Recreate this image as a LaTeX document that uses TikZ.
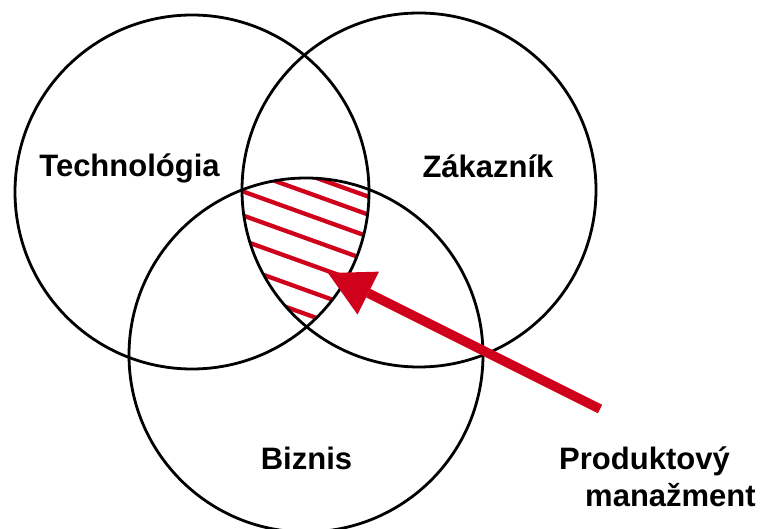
\documentclass[tikz,border=0pt]{standalone}
\usepackage{fontspec}
\setmainfont{Liberation Sans}
\usetikzlibrary{arrows.meta,calc}
\definecolor{pmred}{RGB}{208,2,27}
\tikzset{
  ring/.style={circle, draw=black, line width=2.8pt, minimum size=354pt, inner sep=0pt},
  lbl/.style={font=\fontsize{31}{36}\selectfont\bfseries, inner sep=0pt, text=black},
  hatch/.style={draw=pmred, line width=4.3pt},
  pmarrow/.style={draw=pmred, line width=9.5pt, -{Triangle[length=45pt,width=48pt,line width=0pt]}}
}
\begin{document}
\begin{tikzpicture}[x=1pt,y=-1pt]
\useasboundingbox (0,0) rectangle (766,529);
% hatched triple intersection
\begin{scope}
  \clip (192,192) circle[radius=177];
  \clip (419,190) circle[radius=177];
  \clip (306,355) circle[radius=177];
  \foreach \c in {64,82,104,128,153,180,204}{
    \draw[hatch] (200,\c+72) -- (420,\c+151.2);
  }
\end{scope}
% circles
\node[ring] (tech) at (192,192) {};
\node[ring] (cust) at (419,190) {};
\node[ring] (biz) at (306,355) {};
% labels
\node[lbl, anchor=base] (techl) at (129.5,177) {Technológia};
\node[lbl, anchor=base] (custl) at (488,178) {Zákazník};
\node[lbl, anchor=base] (bizl) at (306.5,469) {Biznis};
\node[lbl, anchor=base west] (pm1) at (559,469) {Produktový};
\node[lbl, anchor=base west] (pm2) at (585,506) {manažment};
% arrow
\coordinate (pmstart) at (600,409);
\coordinate (pmtip) at (328,273);
\draw[pmarrow] (pmstart) -- (pmtip);
\end{tikzpicture}
\end{document}
